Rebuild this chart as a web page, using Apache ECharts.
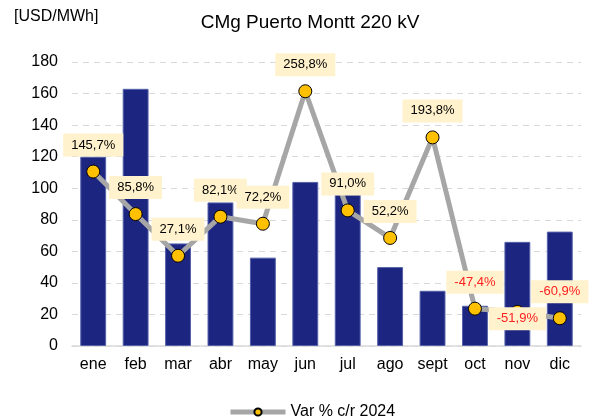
<!DOCTYPE html>
<html>
<head>
<meta charset="utf-8">
<script src="https://cdn.jsdelivr.net/npm/echarts@6/dist/echarts.min.js"></script>
<style>
  html, body { margin: 0; padding: 0; background: #fff; }
  #chart { width: 590px; height: 417px; }
</style>
</head>
<body>
<div id="chart"></div>
<script>
// datos
var meses = ['ene', 'feb', 'mar', 'abr', 'may', 'jun', 'jul', 'ago', 'sept', 'oct', 'nov', 'dic'];
var cmg = [120, 163, 65, 91, 56, 104, 96, 50, 35, 25.5, 66, 72.5];
var varPct = [145.7, 85.8, 27.1, 82.1, 72.2, 258.8, 91.0, 52.2, 193.8, -47.4, -51.9, -60.9];
var ticksY = [0, 20, 40, 60, 80, 100, 120, 140, 160, 180];

var dom = document.getElementById('chart');
var myChart = echarts.init(dom);

var fuente = 'Liberation Sans, Arial, sans-serif';

// puntos de la linea con etiquetas
var lineData = varPct.map(function (v, i) {
    var item = {
        value: v,
        label: {
            color: v < 0 ? '#ff2020' : '#000'
        }
    };
    if (meses[i] === 'nov') {
        item.label.position = 'inside';
        item.label.offset = [0, 7];
    }
    return item;
});

var option = {
    animation: false,
    backgroundColor: '#fff',
    title: {
        text: 'CMg Puerto Montt 220 kV',
        left: 305,
        textAlign: 'center',
        top: 8,
        textStyle: { fontFamily: fuente, fontSize: 19, fontWeight: 'normal', color: '#000' }
    },
    graphic: [{
        type: 'text',
        left: 14,
        top: 9,
        style: { text: '[USD/MWh]', font: '16px ' + fuente, fill: '#000' }
    }],
    legend: {
        data: ['Var % c/r 2024'],
        top: 399,
        left: 223,
        itemWidth: 55,
        itemHeight: 9,
        itemGap: 4,
        lineStyle: { width: 5 },
        textStyle: { fontFamily: fuente, fontSize: 16, color: '#000' }
    },
    grid: {
        left: 72,
        right: 9,
        top: 62,
        bottom: 71
    },
    xAxis: {
        type: 'category',
        data: meses,
        axisTick: { show: false },
        axisLine: { lineStyle: { color: '#d9d9d9', width: 1.5 } },
        axisLabel: { fontFamily: fuente, fontSize: 16, color: '#000', margin: 11 }
    },
    yAxis: [{
        type: 'value',
        min: ticksY[0],
        max: ticksY[ticksY.length - 1],
        interval: 20,
        axisLine: { show: false },
        axisTick: { show: false },
        axisLabel: { fontFamily: fuente, fontSize: 16, color: '#000', margin: 14 },
        splitLine: { lineStyle: { color: '#d9d9d9', type: [6, 5], width: 1 } }
    }, {
        type: 'value',
        min: -100,
        max: 300,
        show: false,
        splitLine: { show: false }
    }],
    series: [{
        name: 'CMg',
        type: 'bar',
        data: cmg,
        barCategoryGap: '39%',
        itemStyle: { color: '#1c2580', borderColor: '#5561a8', borderWidth: 1 }
    }, {
        name: 'Var % c/r 2024',
        type: 'line',
        yAxisIndex: 1,
        data: lineData,
        symbol: 'circle',
        symbolSize: 13,
        lineStyle: { color: '#a6a6a6', width: 5 },
        itemStyle: { color: '#ffc000', borderColor: '#000', borderWidth: 1 },
        label: {
            show: true,
            position: 'top',
            distance: 8,
            fontFamily: fuente,
            fontSize: 13,
            backgroundColor: '#fff2cc',
            padding: [5, 8],
            formatter: function (p) {
                return p.value.toFixed(1).replace('.', ',') + '%';
            }
        },
        z: 3
    }]
};

myChart.setOption(option, true);
</script>
</body>
</html>
